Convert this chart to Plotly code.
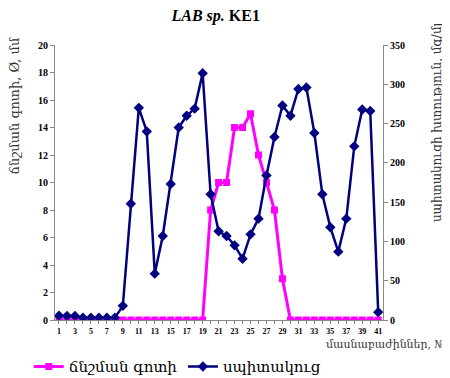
import plotly.graph_objects as go

fractions = list(range(1, 42))
zone_mm = [0]*19 + [8, 10, 10, 14, 14, 15, 12, 10, 8, 3] + [0]*12
protein = [5.5, 5, 5, 3, 3, 3, 3, 3, 18, 148, 270, 240, 59, 107, 173, 245, 260, 269, 314,
           160, 113, 107, 95, 78, 109, 129, 184, 233, 273, 260, 294, 296, 238, 160, 118, 87,
           129, 221, 268, 266, 10]
x_tick_vals = list(range(1, 42, 2))
y1_ticks = list(range(0, 21, 2))
y2_ticks = list(range(0, 351, 50))

serif = "Liberation Serif, Times New Roman, serif"
arm = "DejaVu Serif, serif"

fig = go.Figure()
fig.add_trace(go.Scatter(x=fractions, y=zone_mm, name="ճնշման գոտի", mode="lines+markers",
                         line=dict(color="#FF00FF", width=3),
                         marker=dict(symbol="square", size=7, color="#FF00FF"),
                         yaxis="y", legend="legend"))
fig.add_trace(go.Scatter(x=fractions, y=protein, name="սպիտակուց", mode="lines+markers",
                         line=dict(color="#000080", width=2.5),
                         marker=dict(symbol="diamond", size=8, color="#000080"),
                         yaxis="y2", legend="legend2"))

fig.update_layout(
    width=442, height=370, margin=dict(l=47, r=67, t=37, b=58, autoexpand=False),
    plot_bgcolor="white", paper_bgcolor="white",
    title=dict(text="<b><i>LAB sp.</i> KE1</b>", x=0.47, xanchor="center", y=0.981, yanchor="middle",
               font=dict(family=serif, size=16, color="black")),
    xaxis=dict(range=[0.5, 41.6], tickmode="array", tickvals=x_tick_vals,
               ticktext=[str(v) for v in x_tick_vals], showgrid=False, zeroline=False,
               showline=True, linecolor="#888", ticks="outside", ticklen=3, tickcolor="#888",
               minor=dict(dtick=1, ticks="outside", ticklen=3, tickcolor="#888"),
               tickfont=dict(family=serif, size=8, color="black", weight="bold"), tickangle=0),
    yaxis=dict(range=[0, 20], tickvals=y1_ticks, showgrid=False, zeroline=False,
               showline=True, linecolor="#888", ticks="outside", ticklen=4, tickcolor="#888",
               tickfont=dict(family=serif, size=10, color="black", weight="bold")),
    yaxis2=dict(range=[0, 350], tickvals=y2_ticks, overlaying="y", side="right", showgrid=False,
                zeroline=False, showline=True, linecolor="#888", ticks="outside", ticklen=4,
                tickcolor="#888", tickfont=dict(family=serif, size=10, color="black", weight="bold")),
    legend=dict(orientation="h", x=-0.08, xanchor="left", y=-0.17, yanchor="middle",
                font=dict(family=arm, size=15, color="black"), itemwidth=30,
                bgcolor="rgba(0,0,0,0)"),
    legend2=dict(orientation="h", x=0.39, xanchor="left", y=-0.17, yanchor="middle",
                 font=dict(family=arm, size=15, color="black"), itemwidth=30,
                 bgcolor="rgba(0,0,0,0)"),
    showlegend=True,
)
fig.add_annotation(text="ճնշման գոտի, Ø, մմ", xref="paper", yref="paper", x=-0.122, y=0.78,
                   xanchor="center", yanchor="middle", textangle=-90, showarrow=False,
                   font=dict(family=arm, size=13, color="#333"))
fig.add_annotation(text="սպիտակուցի խտություն, մգ/մլ", xref="paper", yref="paper", x=1.165, y=0.72,
                   xanchor="center", yanchor="middle", textangle=-90, showarrow=False,
                   font=dict(family=arm, size=12, color="#333"))
fig.add_annotation(text="մասնաբաժիններ, №", xref="paper", yref="paper", x=1.195, y=-0.09,
                   xanchor="right", yanchor="middle", showarrow=False,
                   font=dict(family=arm, size=11, color="#333"))
fig.write_html("out.html")
